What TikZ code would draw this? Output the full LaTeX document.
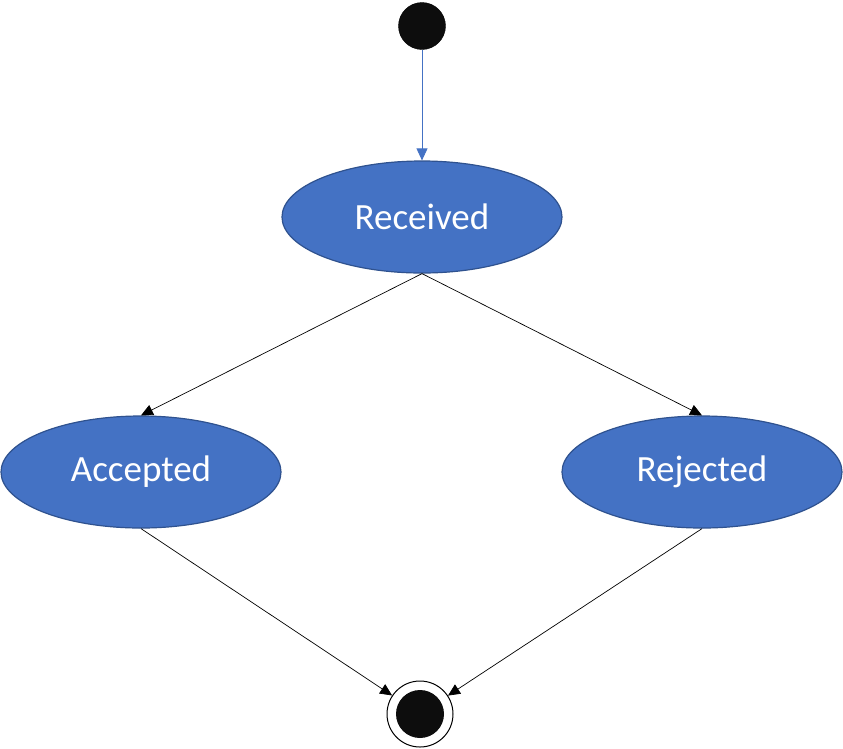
\documentclass[tikz,border=0pt]{standalone}
\usepackage{fontspec}
\setmainfont{Carlito}
\usetikzlibrary{shapes.geometric,arrows.meta}
\definecolor{statefill}{HTML}{4472C4}
\definecolor{stateline}{HTML}{2F528F}
\definecolor{dot}{HTML}{0D0D0D}

\begin{document}
\begin{tikzpicture}[x=1pt,y=-1pt,
    state/.style={ellipse, draw=stateline, line width=1.2pt, fill=statefill, text=white,
                  minimum width=280pt, minimum height=112pt, inner sep=0pt,
                  font=\fontsize{37}{44}\selectfont},
    tip/.style={-{Triangle[length=12pt,width=11pt]}, line width=0.7pt}]
      \useasboundingbox (0,0) rectangle (843,748);

      \node[circle, draw, fill=dot, minimum size=47pt, inner sep=0pt] (I) at (422,26) {};
      \node[state] (R) at (422,217) {Received};
      \node[state] (A) at (141,472) {Accepted};
      \node[state] (J) at (702,472) {Rejected};
      \node[circle, draw, line width=1pt, minimum size=66pt, inner sep=0pt,
            path picture={\fill[dot] (path picture bounding box.center) circle (24pt);}] (F) at (420,714) {};

      \path (I) edge[tip, draw=statefill, fill=statefill] (R);
      \path (R.south) edge[tip] (A.north);
      \path (R.south) edge[tip] (J.north);
      \path (A.south) edge[tip] (F);
      \path (J.south) edge[tip] (F);
    \end{tikzpicture}
\end{document}
